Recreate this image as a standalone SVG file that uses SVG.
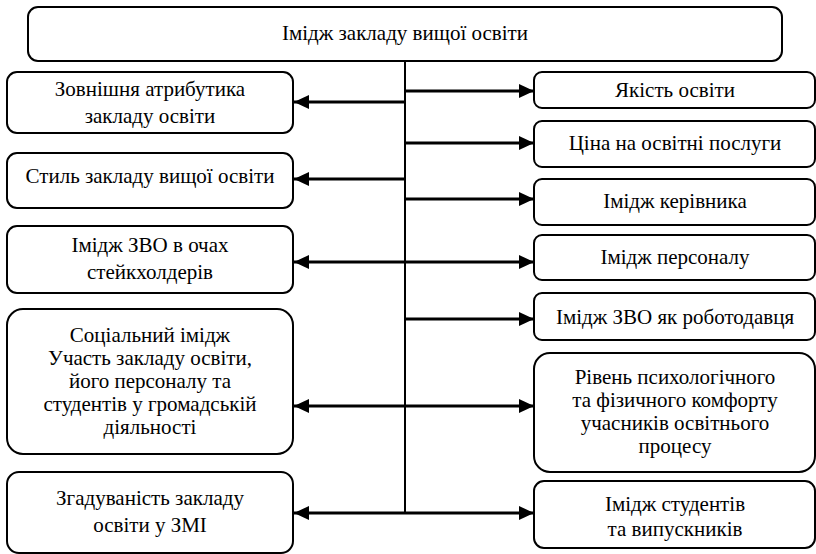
<svg xmlns="http://www.w3.org/2000/svg" width="816" height="554" viewBox="0 0 816 554">
<style>
.box{fill:#fff;stroke:#000;stroke-width:2}
.t{font-family:'Liberation Serif','Times New Roman',serif;font-size:21px;fill:#000;text-anchor:middle}
.c{stroke:#000;stroke-width:3;fill:none}
.v{stroke:#000;stroke-width:2;fill:none}
</style>
<defs>
<marker id="ah" markerUnits="userSpaceOnUse" markerWidth="16" markerHeight="14" viewBox="0 0 16 14" refX="15" refY="7" orient="auto">
<path d="M0,0 L15,7 L0,14 Z" fill="#000"/>
</marker>
</defs>
<rect width="816" height="554" fill="#fff"/>
<g id="connectors">
<line class="v" x1="405" y1="61" x2="405" y2="513"/>
<line class="c" x1="405" y1="102" x2="294" y2="102" marker-end="url(#ah)"/>
<line class="c" x1="405" y1="179" x2="294" y2="179" marker-end="url(#ah)"/>
<line class="c" x1="405" y1="262" x2="294" y2="262" marker-end="url(#ah)"/>
<line class="c" x1="405" y1="406" x2="294" y2="406" marker-end="url(#ah)"/>
<line class="c" x1="405" y1="513" x2="294" y2="513" marker-end="url(#ah)"/>
<line class="c" x1="405" y1="91" x2="534" y2="91" marker-end="url(#ah)"/>
<line class="c" x1="405" y1="143" x2="534" y2="143" marker-end="url(#ah)"/>
<line class="c" x1="405" y1="199" x2="534" y2="199" marker-end="url(#ah)"/>
<line class="c" x1="405" y1="262" x2="534" y2="262" marker-end="url(#ah)"/>
<line class="c" x1="405" y1="319" x2="534" y2="319" marker-end="url(#ah)"/>
<line class="c" x1="405" y1="406" x2="534" y2="406" marker-end="url(#ah)"/>
<line class="c" x1="405" y1="513" x2="534" y2="513" marker-end="url(#ah)"/>
</g>
<g id="top">
<rect class="box" x="28" y="7" width="754" height="54" rx="10"/>
<text class="t" x="405" y="40">Імідж закладу вищої освіти</text>
</g>
<g id="l1">
<rect class="box" x="7" y="72" width="286" height="61" rx="10"/>
<text class="t" x="150" y="96">Зовнішня атрибутика</text>
<text class="t" x="150" y="123">закладу освіти</text>
</g>
<g id="l2">
<rect class="box" x="7" y="153" width="286" height="55" rx="10"/>
<text class="t" x="150" y="183">Стиль закладу вищої освіти</text>
</g>
<g id="l3">
<rect class="box" x="7" y="226" width="286" height="67" rx="10"/>
<text class="t" x="150" y="252">Імідж ЗВО в очах</text>
<text class="t" x="150" y="279">стейкхолдерів</text>
</g>
<g id="l4">
<rect class="box" x="7" y="309" width="286" height="145" rx="16"/>
<text class="t" x="150" y="342">Соціальний імідж</text>
<text class="t" x="150" y="365">Участь закладу освіти,</text>
<text class="t" x="150" y="388">його персоналу та</text>
<text class="t" x="150" y="411">студентів у громадській</text>
<text class="t" x="150" y="434">діяльності</text>
</g>
<g id="l5">
<rect class="box" x="7" y="472" width="286" height="81" rx="12"/>
<text class="t" x="150" y="505">Згадуваність закладу</text>
<text class="t" x="150" y="532">освіти у ЗМІ</text>
</g>
<g id="r1">
<rect class="box" x="534" y="72" width="281" height="36" rx="8"/>
<text class="t" x="675" y="97">Якість освіти</text>
</g>
<g id="r2">
<rect class="box" x="534" y="121" width="281" height="46" rx="8"/>
<text class="t" x="675" y="150">Ціна на освітні послуги</text>
</g>
<g id="r3">
<rect class="box" x="534" y="179" width="281" height="46" rx="8"/>
<text class="t" x="675" y="208">Імідж керівника</text>
</g>
<g id="r4">
<rect class="box" x="534" y="235" width="281" height="45" rx="8"/>
<text class="t" x="675" y="264">Імідж персоналу</text>
</g>
<g id="r5">
<rect class="box" x="534" y="293" width="281" height="47" rx="8"/>
<text class="t" x="675" y="324">Імідж ЗВО як роботодавця</text>
</g>
<g id="r6">
<rect class="box" x="534" y="353" width="281" height="119" rx="16"/>
<text class="t" x="675" y="384">Рівень психологічного</text>
<text class="t" x="675" y="407">та фізичного комфорту</text>
<text class="t" x="675" y="430">учасників освітнього</text>
<text class="t" x="675" y="453">процесу</text>
</g>
<g id="r7">
<rect class="box" x="534" y="481" width="281" height="67" rx="10"/>
<text class="t" x="675" y="511">Імідж студентів</text>
<text class="t" x="675" y="536">та випускників</text>
</g>
</svg>
